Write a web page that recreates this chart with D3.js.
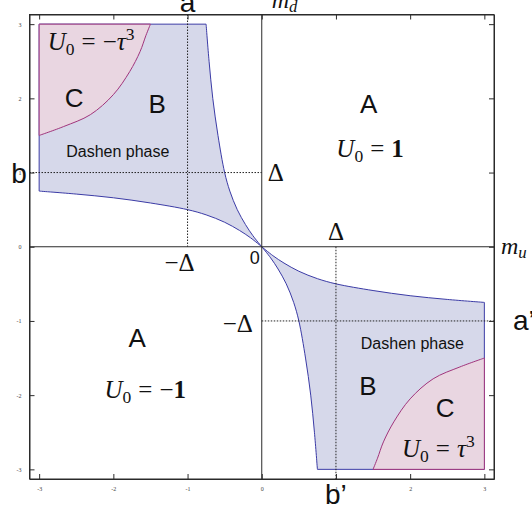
<!DOCTYPE html>
<html>
<head>
<meta charset="utf-8">
<script src="https://cdn.jsdelivr.net/npm/d3@7"></script>
<style>
  body { margin: 0; background: #fff; }
  svg text { white-space: pre; }
</style>
</head>
<body>
<div id="chart"></div>
<script>
// Axis ticks
const majorTicks = [-3, -2, -1, 0, 1, 2, 3];

// Dashen phase (B), second quadrant: lower boundary (m_u, m_d)
const lowerBoundU = [-3, -2.5, -2, -1.5, -1, -0.75, -0.5, -0.3, -0.15, 0];
const lowerBoundD = [0.75, 0.71, 0.66, 0.59, 0.5, 0.43, 0.33, 0.22, 0.12, 0];

// Dashen phase (B), second quadrant: upper boundary
const upperBoundU = [-0.75, -0.71, -0.66, -0.59, -0.5, -0.43, -0.33, -0.22, -0.12, 0];
const upperBoundD = [3, 2.5, 2, 1.5, 1, 0.75, 0.5, 0.3, 0.15, 0];

// Region C boundary, second quadrant
const cBoundU = [-3, -2.67, -2.31, -2.0, -1.78, -1.64, -1.56, -1.5];
const cBoundD = [1.5, 1.62, 1.78, 2.05, 2.36, 2.63, 2.85, 3];

// Plot edge of the drawn regions
const edge = 3;

const width = 532, height = 512;
const frame = {left: 29.5, right: 494, top: 14.5, bottom: 479};
const lim = 3.13;

const serif = "'Liberation Serif', 'DejaVu Serif', serif";
const sans = "'Liberation Sans', Arial, sans-serif";

const blueFill = "#d6d8ea", blueLine = "#3b3ba6";
const pinkFill = "#e9d6e1", pinkLine = "#a1357c";

const svg = d3.select("#chart").append("svg")
  .attr("width", width)
  .attr("height", height);

const x = d3.scaleLinear().domain([-lim, lim]).range([frame.left, frame.right]);
const y = d3.scaleLinear().domain([-lim, lim]).range([frame.bottom, frame.top]);

// Helpers to build paths made of straight and smooth pieces
const smooth = d3.line().x(p => x(p[0])).y(p => y(p[1])).curve(d3.curveCatmullRom.alpha(0.5));
const zip = (us, ds) => us.map((u, i) => [u, ds[i]]);
const flip = pts => pts.map(p => [-p[0], -p[1]]);

function buildPath(pieces)
{
  let d = "";
  pieces.forEach((pc, i) => {
    let s = pc.smooth ? smooth(pc.pts) : "M" + pc.pts.map(p => x(p[0]) + "," + y(p[1])).join("L");
    d += i === 0 ? s : "L" + s.slice(1);
  });
  return d + "Z";
}

const lower = zip(lowerBoundU, lowerBoundD);
const upper = zip(upperBoundU, upperBoundD);
const cCurve = zip(cBoundU, cBoundD);

function regionB(sign)
{
  const f = sign > 0 ? (p => p) : flip;
  return buildPath([
    {pts: f([[-edge, edge], [upperBoundU[0], edge]])},
    {pts: f(upper), smooth: true},
    {pts: f(lower.slice().reverse()), smooth: true}
  ]);
}

function regionC(sign)
{
  const f = sign > 0 ? (p => p) : flip;
  return buildPath([
    {pts: f(cCurve), smooth: true},
    {pts: f([[cBoundU[cBoundU.length - 1], edge], [-edge, edge]])}
  ]);
}

// Regions
const regions = svg.append("g").attr("class", "regions");
[1, -1].forEach(s => {
  regions.append("path").attr("d", regionB(s))
    .attr("fill", blueFill).attr("stroke", blueLine).attr("stroke-width", 1).attr("stroke-linejoin", "round");
});
[1, -1].forEach(s => {
  regions.append("path").attr("d", regionC(s))
    .attr("fill", pinkFill).attr("stroke", pinkLine).attr("stroke-width", 1).attr("stroke-linejoin", "round");
});

// Dotted guide lines
const guides = svg.append("g").attr("class", "guides")
  .attr("stroke", "#222").attr("stroke-width", 1).attr("stroke-dasharray", "1.5,1.5");
guides.append("line").attr("x1", x(-1)).attr("x2", x(-1)).attr("y1", frame.top).attr("y2", y(0));
guides.append("line").attr("x1", frame.left).attr("x2", x(0)).attr("y1", y(1)).attr("y2", y(1));
guides.append("line").attr("x1", x(1)).attr("x2", x(1)).attr("y1", y(0)).attr("y2", frame.bottom);
guides.append("line").attr("x1", x(0)).attr("x2", frame.right).attr("y1", y(-1)).attr("y2", y(-1));

// Origin axes
const axes = svg.append("g").attr("stroke", "#2b2b2b").attr("stroke-width", 1);
axes.append("line").attr("x1", x(0)).attr("x2", x(0)).attr("y1", frame.top).attr("y2", frame.bottom);
axes.append("line").attr("x1", frame.left).attr("x2", frame.right).attr("y1", y(0)).attr("y2", y(0));

// Frame with inward ticks
const minorTicks = d3.range(-3, 3.001, 0.2).map(v => +v.toFixed(1)).filter(v => !majorTicks.includes(v));
const fmt = d => String(d);

function frameAxis(gen, tx, ty, labels)
{
  const g = svg.append("g").attr("transform", `translate(${tx},${ty})`);
  g.call(gen(labels ? x : y).tickValues(minorTicks).tickSize(-3).tickSizeOuter(0).tickFormat(""));
  g.call(gen(labels ? x : y).tickValues(majorTicks).tickSize(-5).tickSizeOuter(0).tickFormat(""));
  return g;
}

const bottomG = svg.append("g").attr("transform", `translate(0,${frame.bottom})`);
bottomG.call(d3.axisBottom(x).tickValues(minorTicks).tickSize(-3).tickSizeOuter(0).tickFormat(""));
bottomG.call(d3.axisBottom(x).tickValues(majorTicks).tickSize(-5).tickSizeOuter(0).tickPadding(8).tickFormat(fmt));

const topG = svg.append("g").attr("transform", `translate(0,${frame.top})`);
topG.call(d3.axisTop(x).tickValues(minorTicks).tickSize(-3).tickSizeOuter(0).tickFormat(""));
topG.call(d3.axisTop(x).tickValues(majorTicks).tickSize(-5).tickSizeOuter(0).tickFormat(""));

const leftG = svg.append("g").attr("transform", `translate(${frame.left},0)`);
leftG.call(d3.axisLeft(y).tickValues(minorTicks).tickSize(-3).tickSizeOuter(0).tickFormat(""));
leftG.call(d3.axisLeft(y).tickValues(majorTicks).tickSize(-5).tickSizeOuter(0).tickPadding(8).tickFormat(fmt));

const rightG = svg.append("g").attr("transform", `translate(${frame.right},0)`);
rightG.call(d3.axisRight(y).tickValues(minorTicks).tickSize(-3).tickSizeOuter(0).tickFormat(""));
rightG.call(d3.axisRight(y).tickValues(majorTicks).tickSize(-5).tickSizeOuter(0).tickFormat(""));

// Frame box (full edges, the axis domains stop at the range)
svg.append("rect")
  .attr("x", frame.left).attr("y", frame.top)
  .attr("width", frame.right - frame.left).attr("height", frame.bottom - frame.top)
  .attr("fill", "none").attr("stroke", "#2b2b2b").attr("stroke-width", 1);

svg.selectAll(".tick line").attr("stroke", "#2b2b2b");
svg.selectAll(".domain").attr("stroke", "#2b2b2b");
svg.selectAll(".tick text").attr("font-family", serif).attr("font-size", 6).attr("fill", "#444");

// Text helpers
function sansLabel(px, py, txt, size, anchor)
{
  svg.append("text").attr("x", px).attr("y", py)
    .attr("text-anchor", anchor || "middle")
    .attr("font-family", sans).attr("font-size", size).attr("fill", "#111")
    .text(txt);
}

function mathLabel(px, py, parts, size, anchor)
{
  const t = svg.append("text").attr("x", px).attr("y", py)
    .attr("text-anchor", anchor || "middle")
    .attr("font-family", serif).attr("font-size", size).attr("fill", "#111");
  let cur = 0;
  parts.forEach(p => {
    const shift = p.shift || 0;
    t.append("tspan")
      .attr("dy", shift - cur)
      .attr("dx", p.dx || 0)
      .attr("font-size", p.small ? size * 0.7 : null)
      .attr("font-style", p.it ? "italic" : null)
      .attr("font-weight", p.bold ? "bold" : null)
      .text(p.t);
    cur = shift;
  });
}

const U0 = [{t: "U", it: true}, {t: "0", small: true, shift: 5}, {t: "=", dx: 7}];
const fs = 25;

// Region letters
sansLabel(x(1.44), y(1.80), "A", 26);
sansLabel(x(-2.53), y(1.88), "C", 26);
sansLabel(x(-1.41), y(1.80), "B", 26);
sansLabel(x(-1.68), y(-1.35), "A", 26);
sansLabel(x(1.43), y(-2.0), "B", 26);
sansLabel(x(2.47), y(-2.30), "C", 26);
sansLabel(x(-1.94), y(1.21), "Dashen phase", 16);
sansLabel(x(2.03), y(-1.38), "Dashen phase", 16);

// Potential values
mathLabel(x(1.46), y(1.21), U0.concat([{t: "1", bold: true, dx: 7}]), fs);
mathLabel(x(-1.57), y(-2.04), U0.concat([{t: "\u2212", dx: 7}, {t: "1", bold: true}]), fs);
mathLabel(x(-2.30), y(2.65), U0.concat([{t: "\u2212", dx: 7}, {t: "\u03c4", it: true}, {t: "3", small: true, shift: -10}]), fs);
mathLabel(x(2.38), y(-2.83), U0.concat([{t: "\u03c4", it: true, dx: 7}, {t: "3", small: true, shift: -10}]), fs);

// Delta marks
mathLabel(x(0) + 14, y(1) + 8, [{t: "\u0394"}], fs);
mathLabel(x(1), y(0) - 7, [{t: "\u0394"}], fs);
mathLabel(x(-1) - 8, y(0) + 24, [{t: "\u2212\u0394"}], fs);
mathLabel(x(0) - 24, y(-1) + 11, [{t: "\u2212\u0394"}], fs);
sansLabel(x(0) - 7, y(0) + 17, "0", 18);

// Axis names
mathLabel(x(0) + 10, 8, [{t: "m", it: true}, {t: "d", it: true, small: true, shift: 4}], 24, "start");
mathLabel(frame.right + 7, y(0) + 7, [{t: "m", it: true}, {t: "u", it: true, small: true, shift: 4}], 24, "start");

// Guide names
sansLabel(x(-1), 12, "a", 28);
sansLabel(19, y(1) + 10, "b", 28);
sansLabel(x(1), 504, "b\u2019", 28);
sansLabel(513, y(-1) + 9, "a\u2019", 28, "start");
</script>
</body>
</html>
